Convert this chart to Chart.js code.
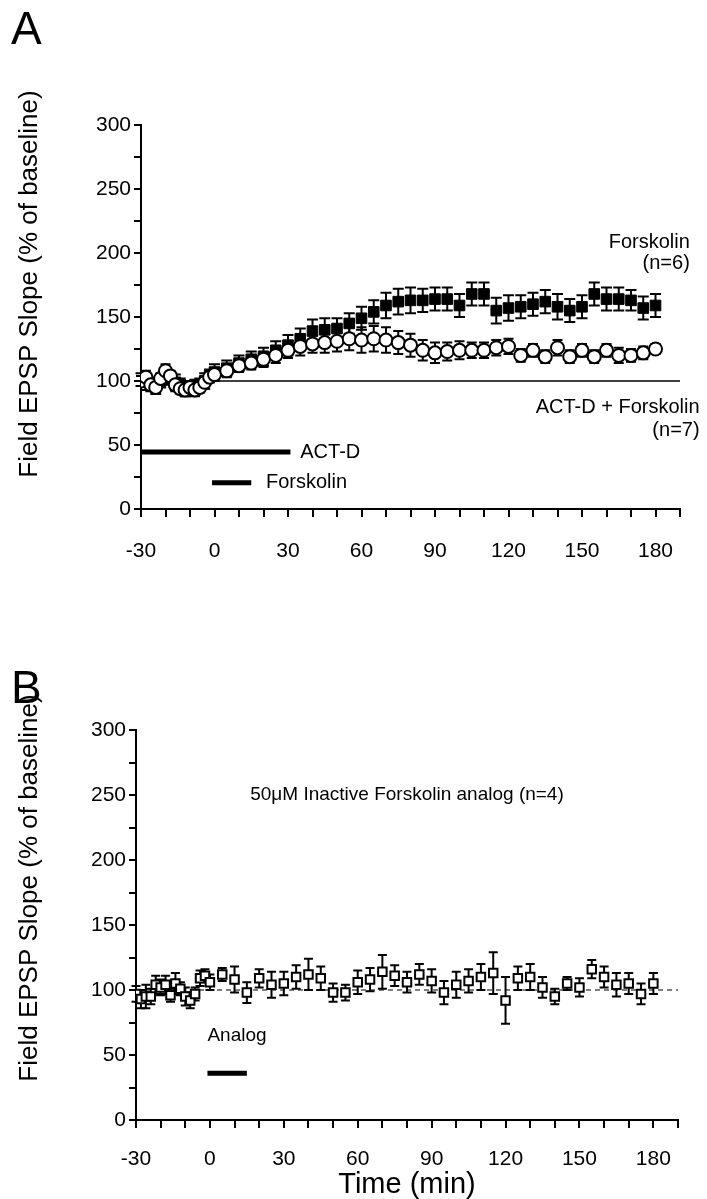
<!DOCTYPE html>
<html>
<head>
<meta charset="utf-8">
<script src="https://cdn.jsdelivr.net/npm/chart.js@4.4.1/dist/chart.umd.min.js"></script>
<style>
  html, body { margin: 0; padding: 0; background: #fff; width: 707px; height: 1199px; overflow: hidden; }
  .panel { position: absolute; left: 0; }
</style>
</head>
<body>
<div class="panel" style="top:0"><canvas id="chartA" width="707" height="600"></canvas></div>
<div class="panel" style="top:600px"><canvas id="chartB" width="707" height="599"></canvas></div>
<script>
// sample times (min), same for every series
const timeA = [-30,-28,-26,-24,-22,-20,-18,-16,-14,-12,-10,-8,-6,-4,-2,0,
  5,10,15,20,25,30,35,40,45,50,55,60,65,70,75,80,85,90,95,100,105,110,115,120,
  125,130,135,140,145,150,155,160,165,170,175,180];
const timeB = timeA;

// panel A: forskolin alone (filled squares)
const forskolinMean = [101,99,97,96,100,104,102,99,97,94,94,95,97,100,104,107,
  110,114,117,119,124,128,133,139,140,141,145,149,154,159,162,163,163,164,164,159,
  168,168,155,157,158,160,162,158,155,158,168,164,164,163,157,159];
const forskolinSem = [5,6,5,6,5,6,5,6,5,6,5,6,5,6,5,6,
  6,6,6,7,7,8,8,9,9,8,8,9,9,10,10,10,9,9,9,9,
  9,9,10,10,9,9,9,10,9,9,9,9,9,8,9,9];

// panel A: ACT-D + forskolin (open circles)
const actdMean = [100,103,97,95,102,108,104,97,94,93,95,93,95,99,103,105,
  108,112,114,117,120,124,127,129,130,131,133,132,133,132,130,128,124,122,123,124,
  124,124,126,127,120,124,119,126,119,124,119,124,120,120,122,125];
const actdSem = [4,5,4,5,4,5,4,5,4,5,4,5,4,5,4,5,
  5,5,5,6,6,6,7,7,8,8,9,10,10,10,9,9,8,8,7,7,
  6,6,6,6,5,5,5,6,5,5,5,5,6,5,5,4];

// panel B: inactive analog (open squares)
const analogMean = [97,93,95,95,104,102,104,96,105,101,95,92,97,109,111,106,
  112,108,98,109,104,105,110,112,109,98,98,106,108,114,111,106,112,107,98,104,
  107,110,113,92,109,110,102,95,105,102,116,110,104,105,97,105];
const analogSem = [6,7,9,6,7,6,7,5,8,5,7,6,5,6,5,6,
  5,10,8,7,10,9,9,12,9,7,6,9,9,13,8,8,8,9,9,10,
  9,10,16,18,9,10,8,6,5,7,7,8,9,8,8,8];

// application bars [start, end] and level
const actdBar = [-30, 31]; const actdBarLevel = 44.5;
const forskBar = [-1, 15]; const forskBarLevel = 20.5;
const analogBar = [-1, 15]; const analogBarLevel = 36;
const baselineX = [-30, 190]; const baselineY = 100;

const xTicks = [-30, 0, 30, 60, 90, 120, 150, 180];
const yTicks = [0, 50, 100, 150, 200, 250, 300];

const FONT = "'Liberation Sans', Arial, Helvetica, sans-serif";
const yTitle = 'Field EPSP Slope (% of baseline)';

const pts = (xs, ys) => xs.map((x, i) => ({ x: x, y: ys[i] }));
const flat = (xs, level) => xs.map(x => ({ x: x, y: level }));

// vertical SEM bars with caps, drawn just before each dataset's markers
const errorBars = {
  id: 'errorBars',
  beforeDatasetDraw(chart, args) {
    const ds = chart.data.datasets[args.index];
    if (!ds.errors) return;
    const { ctx, scales: { x, y } } = chart;
    ctx.save();
    ctx.strokeStyle = '#000';
    ctx.lineWidth = 2;
    ds.data.forEach((p, i) => {
      const px = x.getPixelForValue(p.x);
      const top = y.getPixelForValue(p.y + ds.errors[i]);
      const bot = y.getPixelForValue(p.y - ds.errors[i]);
      const c = ds.capHalf;
      ctx.beginPath();
      ctx.moveTo(px, top); ctx.lineTo(px, bot);
      ctx.moveTo(px - c, top); ctx.lineTo(px + c, top);
      ctx.moveTo(px - c, bot); ctx.lineTo(px + c, bot);
      ctx.stroke();
    });
    ctx.restore();
  }
};

// free text, positioned in data units or pixels
function textPlugin(items) {
  return {
    id: 'textLabels',
    afterDraw(chart) {
      const { ctx, scales: { x, y } } = chart;
      items.forEach(t => {
        ctx.save();
        ctx.fillStyle = '#000';
        ctx.font = t.size + 'px ' + FONT;
        ctx.textAlign = t.align || 'left';
        ctx.textBaseline = 'middle';
        const px = t.px !== undefined ? t.px : x.getPixelForValue(t.x);
        const py = t.py !== undefined ? t.py : y.getPixelForValue(t.y);
        ctx.translate(px, py);
        if (t.rotate) ctx.rotate(-Math.PI / 2);
        ctx.fillText(t.text, 0, 0);
        ctx.restore();
      });
    }
  };
}

function scales(leftW, bottomH, labelPad, xTitle) {
  return {
    x: {
      type: 'linear', min: -30, max: 190,
      border: { color: '#000', width: 2 },
      grid: { drawOnChartArea: false, color: '#000', lineWidth: 2, tickLength: 8 },
      ticks: {
        stepSize: 10, autoSkip: false, maxRotation: 0, padding: labelPad, color: '#000',
        font: { family: FONT, size: 21 },
        callback: v => xTicks.includes(v) ? String(v) : ''
      },
      title: xTitle ? {
        display: true, text: xTitle, color: '#000',
        font: { family: FONT, size: 29, lineHeight: 1 }, padding: { top: 0, bottom: 0 }
      } : { display: false },
      afterFit: s => { s.height = bottomH; }
    },
    y: {
      min: 0, max: 300,
      border: { color: '#000', width: 2 },
      grid: { drawOnChartArea: false, color: '#000', lineWidth: 2, tickLength: 7 },
      ticks: {
        stepSize: 25, autoSkip: false, padding: 3, color: '#000',
        font: { family: FONT, size: 21 },
        callback: v => yTicks.includes(v) ? String(v) : ''
      },
      afterFit: s => { s.width = leftW; }
    }
  };
}

const common = {
  responsive: false,
  animation: false,
  events: [],
  plugins: { legend: { display: false }, tooltip: { enabled: false } }
};

new Chart(document.getElementById('chartA'), {
  type: 'scatter',
  data: {
    datasets: [
      { data: pts(timeA, actdMean), errors: actdSem, capHalf: 5, pointStyle: 'circle',
        pointRadius: 6.5, backgroundColor: '#fff', borderColor: '#000', borderWidth: 2, order: 1 },
      { data: pts(timeA, forskolinMean), errors: forskolinSem, capHalf: 5.5, pointStyle: 'rect',
        pointRadius: 7.5, backgroundColor: '#000', borderColor: '#000', borderWidth: 1, order: 2 },
      { data: flat(actdBar, actdBarLevel), showLine: true, borderColor: '#000', borderWidth: 5,
        borderCapStyle: 'butt', pointRadius: 0, order: 3 },
      { data: flat(forskBar, forskBarLevel), showLine: true, borderColor: '#000', borderWidth: 5,
        borderCapStyle: 'butt', pointRadius: 0, order: 4 },
      { data: flat(baselineX, baselineY), showLine: true, borderColor: '#000', borderWidth: 1.5,
        pointRadius: 0, order: 5 }
    ]
  },
  options: Object.assign({}, common, {
    layout: { padding: { top: 125, right: 27, left: 0, bottom: 0 } },
    scales: scales(141, 91, 22, null)
  }),
  plugins: [errorBars, textPlugin([
    { text: 'A', px: 11, py: 31, size: 46 },
    { text: yTitle, px: 30, py: 284, size: 26, rotate: true, align: 'center' },
    { text: 'Forskolin', x: 194, y: 208.5, size: 20, align: 'right' },
    { text: '(n=6)', x: 194, y: 191.5, size: 20, align: 'right' },
    { text: 'ACT-D + Forskolin', x: 198, y: 79, size: 20, align: 'right' },
    { text: '(n=7)', x: 198, y: 61.5, size: 20, align: 'right' },
    { text: 'ACT-D', x: 35, y: actdBarLevel, size: 20 },
    { text: 'Forskolin', x: 21, y: forskBarLevel, size: 20 }
  ])]
});

new Chart(document.getElementById('chartB'), {
  type: 'scatter',
  data: {
    datasets: [
      { data: pts(timeB, analogMean), errors: analogSem, capHalf: 4.5, pointStyle: 'rect',
        pointRadius: 6, backgroundColor: '#fff', borderColor: '#000', borderWidth: 2, order: 1 },
      { data: flat(analogBar, analogBarLevel), showLine: true, borderColor: '#000', borderWidth: 5,
        borderCapStyle: 'butt', pointRadius: 0, order: 2 },
      { data: flat(baselineX, baselineY), showLine: true, borderColor: '#000', borderWidth: 1.2,
        borderDash: [5, 4], pointRadius: 0, order: 3 }
    ]
  },
  options: Object.assign({}, common, {
    layout: { padding: { top: 130, right: 29, left: 0, bottom: 0 } },
    scales: scales(136, 79, 19, 'Time (min)')
  }),
  plugins: [errorBars, textPlugin([
    { text: 'B', px: 11, py: 90, size: 46 },
    { text: yTitle, px: 30, py: 288, size: 26, rotate: true, align: 'center' },
    { text: '50\u03bcM Inactive Forskolin analog (n=4)', x: 80, y: 250, size: 19, align: 'center' },
    { text: 'Analog', x: -1, y: 65, size: 19 }
  ])]
});
</script>
</body>
</html>
